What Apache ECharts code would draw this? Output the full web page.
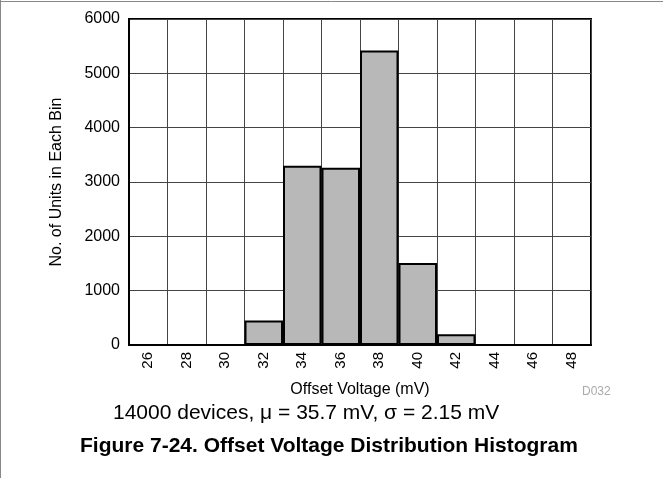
<!DOCTYPE html>
<html>
<head>
<meta charset="utf-8">
<script src="https://cdn.jsdelivr.net/npm/echarts@6/dist/echarts.min.js"></script>
<style>
html,body{margin:0;padding:0;background:#fff;}
#chart{width:663px;height:478px;}
</style>
</head>
<body>
<div id="chart"></div>
<script>
const categories = ['26','28','30','32','34','36','38','40','42','44','46','48'];
const counts = [0, 0, 0, 450, 3300, 3260, 5420, 1510, 200, 0, 0, 0];
const yTicks = { min: 0, max: 6000, interval: 1000 };
const xAxisTitle = 'Offset Voltage (mV)';
const yAxisTitle = 'No. of Units in Each Bin';
const noteText = '14000 devices, \u03bc = 35.7 mV, \u03c3 = 2.15 mV';
const captionText = 'Figure 7-24. Offset Voltage Distribution Histogram';
const codeText = 'D032';

const chart = echarts.init(document.getElementById('chart'));
const font = 'Liberation Sans, Arial, Helvetica, sans-serif';
chart.setOption({
  animation: false,
  backgroundColor: '#fff',
  textStyle: { fontFamily: font },
  grid: { left: 129, top: 19, right: 72, bottom: 133, show: true, borderColor: '#000', borderWidth: 2, backgroundColor: 'transparent' },
  xAxis: {
    type: 'category',
    data: categories,
    boundaryGap: true,
    name: xAxisTitle,
    nameLocation: 'middle',
    nameGap: 37,
    nameTextStyle: { color: '#000', fontSize: 16, fontFamily: font },
    axisLine: { lineStyle: { color: '#000', width: 2 } },
    axisTick: { show: false },
    axisLabel: { rotate: 90, color: '#000', fontSize: 15, margin: 7, interval: 0, fontFamily: font },
    splitLine: { show: true, interval: 0, lineStyle: { color: '#444', width: 1 } }
  },
  yAxis: {
    type: 'value',
    min: yTicks.min, max: yTicks.max, interval: yTicks.interval,
    name: yAxisTitle,
    nameLocation: 'middle',
    nameGap: 64,
    nameTextStyle: { color: '#000', fontSize: 16, fontFamily: font },
    axisLine: { show: true, lineStyle: { color: '#000', width: 2 } },
    axisTick: { show: false },
    axisLabel: { color: '#000', fontSize: 16, margin: 9, fontFamily: font, formatter: (v) => String(v) },
    splitLine: { show: true, lineStyle: { color: '#444', width: 1 } }
  },
  series: [{
    type: 'bar',
    data: counts,
    barCategoryGap: '0%',
    itemStyle: { color: '#b8b8b8', borderColor: '#000', borderWidth: 2 },
    silent: true
  }],
  graphic: [
    { type: 'line', shape: { x1: 0, y1: 1.5, x2: 663, y2: 1.5 }, style: { stroke: '#888', lineWidth: 1 } },
    { type: 'line', shape: { x1: 0.5, y1: 0, x2: 0.5, y2: 478 }, style: { stroke: '#888', lineWidth: 1 } },
    { type: 'text', left: 582, top: 386, style: { text: codeText, fill: '#aaa', fontSize: 12, fontFamily: font } },
    { type: 'text', left: 113, top: 403, style: { text: noteText, fill: '#000', fontSize: 21, fontFamily: font } },
    { type: 'text', left: 80, top: 436, style: { text: captionText, fill: '#000', fontSize: 21, fontWeight: 'bold', fontFamily: font } }
  ]
});
</script>
</body>
</html>
